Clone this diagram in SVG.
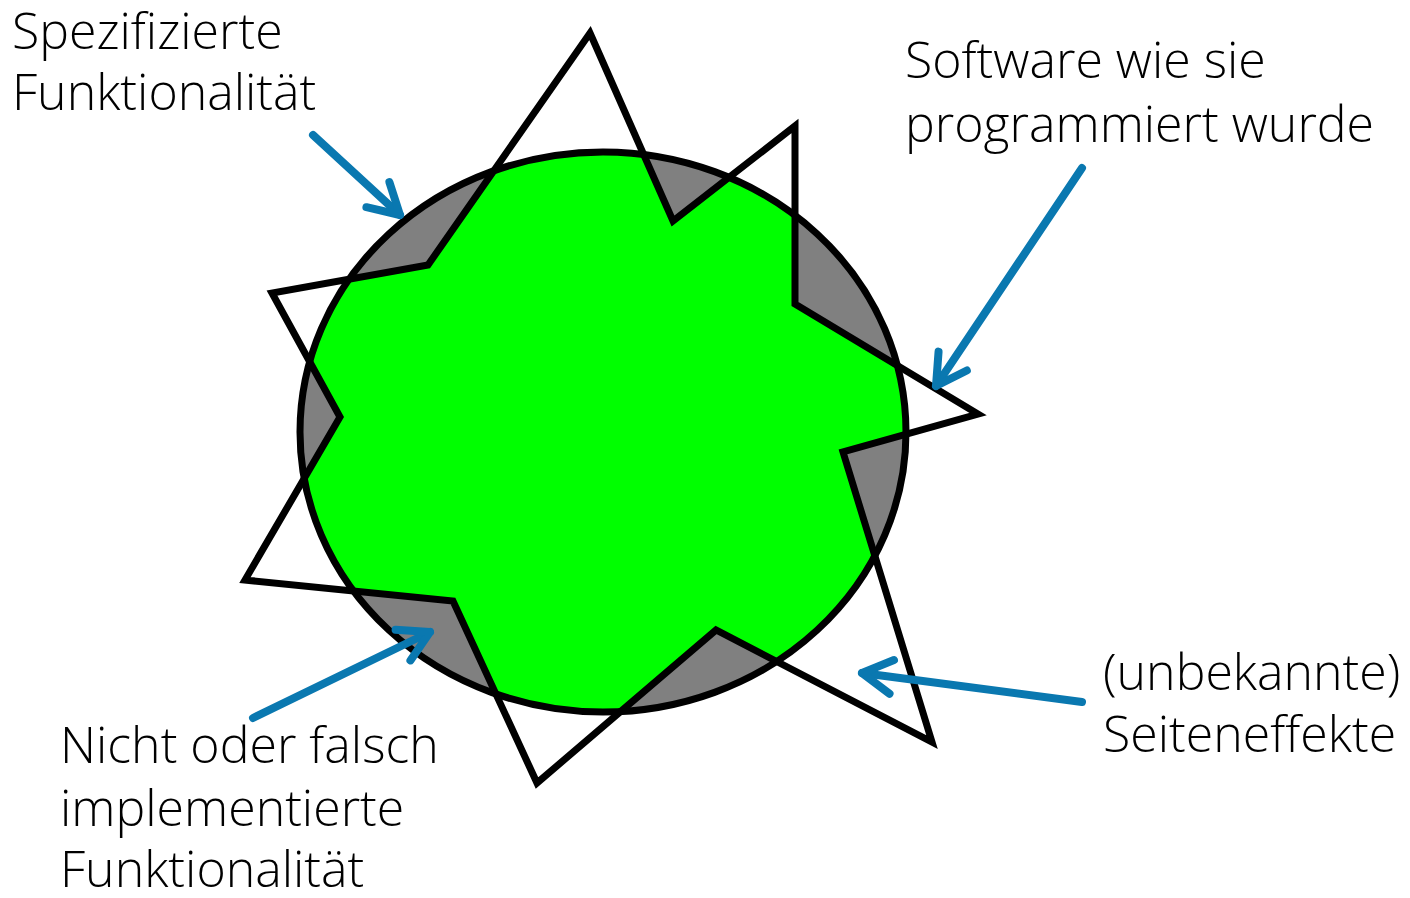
<svg xmlns="http://www.w3.org/2000/svg" width="1410" height="898" viewBox="0 0 1410 898">
  <style>
    .lbl { font-family: "Open Sans", "Noto Sans", sans-serif; font-size: 50px; font-weight: 300; fill: #000; }
    .arr { stroke: #0a78b0; stroke-width: 8; fill: none; stroke-linecap: round; stroke-linejoin: round; }
    .outline { stroke: #000; stroke-width: 7; fill: none; stroke-linejoin: miter; }
  </style>
  <defs>
    <clipPath id="circ">
      <ellipse cx="603" cy="432" rx="303" ry="280"/>
    </clipPath>
    <marker id="head" markerUnits="userSpaceOnUse" markerWidth="60" markerHeight="60" viewBox="-40 -30 50 60" refX="0" refY="0" orient="auto">
      <path d="M-30,-17 L0,0 L-30,17" fill="none" stroke="#0a78b0" stroke-width="8" stroke-linecap="round" stroke-linejoin="round"/>
    </marker>
  </defs>
  <rect width="1410" height="898" fill="#fff"/>
  <g id="spec-circle">
    <ellipse cx="603" cy="432" rx="303" ry="280" fill="#808080"/>
  </g>
  <g id="software-star">
    <polygon clip-path="url(#circ)" fill="#00ff00" points="590,33 673,221 795,126 795,304 978,414 843,452 932,742 716,630 537,783 453,601 245,580 340,417 272,293 428,265"/>
    <ellipse class="outline" cx="603" cy="432" rx="303" ry="280"/>
    <polygon class="outline" points="590,33 673,221 795,126 795,304 978,414 843,452 932,742 716,630 537,783 453,601 245,580 340,417 272,293 428,265"/>
  </g>
  <g id="connectors">
    <line class="arr" x1="313" y1="135" x2="400" y2="215" marker-end="url(#head)"/>
    <line class="arr" x1="1082" y1="168" x2="936" y2="386" marker-end="url(#head)"/>
    <line class="arr" x1="1082" y1="702" x2="862" y2="673" marker-end="url(#head)"/>
    <line class="arr" x1="253" y1="718" x2="430" y2="632" marker-end="url(#head)"/>
  </g>
  <g id="label-spec">
    <text class="lbl" x="12" y="49">Spezifizierte</text>
    <text class="lbl" x="12" y="110">Funktionalität</text>
  </g>
  <g id="label-software">
    <text class="lbl" x="905" y="78">Software wie sie</text>
    <text class="lbl" x="905" y="142">programmiert wurde</text>
  </g>
  <g id="label-side">
    <text class="lbl" x="1103" y="690">(unbekannte)</text>
    <text class="lbl" x="1103" y="752">Seiteneffekte</text>
  </g>
  <g id="label-missing">
    <text class="lbl" x="60" y="763">Nicht oder falsch</text>
    <text class="lbl" x="60" y="826">implementierte</text>
    <text class="lbl" x="60" y="887">Funktionalität</text>
  </g>
</svg>
